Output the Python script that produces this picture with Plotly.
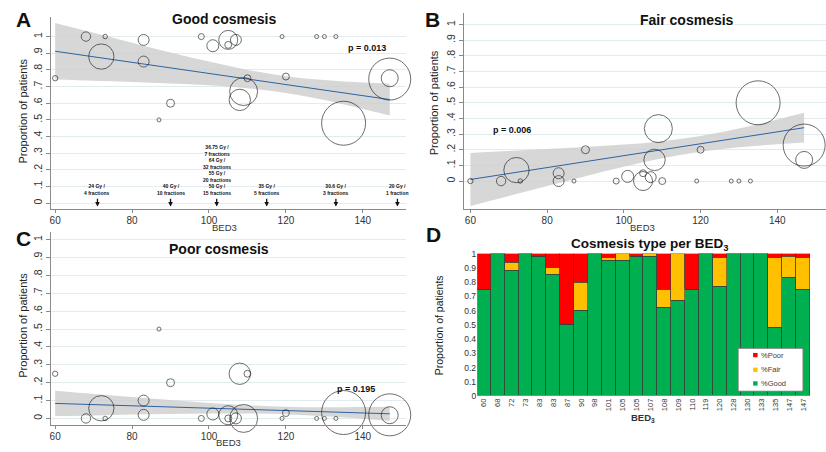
import plotly.graph_objects as go

W, H = 826, 452

# ---------------- data ----------------
bed = [60, 68, 72, 73, 83, 83, 87, 90, 98, 101, 105, 105, 107, 108, 109, 110,
       119, 120, 128, 130, 133, 135, 147, 147]
bed_labels = [str(b) for b in bed]
n_weight = [7, 22, 160, 5, 30, 30, 1, 16, 9, 36, 12, 90, 30, 114, 196, 12,
            4, 12, 3, 1, 3, 484, 72, 441]

good_pts = [0.75, 1.0, 0.88, 1.0, 0.98, 0.85, 0.5, 0.6, 1.0, 0.945, 0.95, 0.98,
            0.98, 0.62, 0.67, 0.75, 1.0, 0.76, 1.0, 1.0, 1.0, 0.48, 0.75, 0.745]
fair_pts = [0, 0, 0.07, 0, 0, 0.05, 0, 0.2, 0, 0.03, 0.05, 0, 0.025, 0.135,
            0.335, 0, 0, 0.2, 0, 0, 0, 0.5, 0.135, 0.23]
poor_pts = [0.25, 0, 0.057, 0, 0.02, 0.10, 0.5, 0.2, 0, 0.025, 0, 0.018, 0,
            0.25, 0, 0.25, 0, 0.03, 0, 0, 0, 0.033, 0.018, 0.02]

good_bar = [0.75, 1.0, 0.88, 1.0, 0.98, 0.85, 0.5, 0.6, 1.0, 0.95, 0.95, 0.98,
            0.98, 0.62, 0.67, 0.75, 1.0, 0.77, 1.0, 1.0, 1.0, 0.48, 0.83, 0.75]
fair_bar = [0, 0, 0.06, 0, 0, 0.05, 0, 0.2, 0, 0.02, 0.05, 0, 0.02, 0.13, 0.33,
            0, 0, 0.2, 0, 0, 0, 0.495, 0.15, 0.225]
poor_bar = [0.25, 0, 0.06, 0, 0.02, 0.1, 0.5, 0.2, 0, 0.03, 0, 0.02, 0, 0.25, 0,
            0.25, 0, 0.03, 0, 0, 0, 0.025, 0.02, 0.025]

fit_x = [60, 70, 80, 90, 100, 110, 120, 130, 140, 147]
good_fit = [0.912, 0.879, 0.845, 0.812, 0.779, 0.745, 0.712, 0.679, 0.645, 0.622]
good_hi = [1.082, 1.023, 0.963, 0.905, 0.850, 0.800, 0.762, 0.739, 0.724, 0.717]
good_lo = [0.742, 0.735, 0.728, 0.719, 0.708, 0.690, 0.662, 0.619, 0.566, 0.527]
fair_fit = [0.010, 0.048, 0.086, 0.124, 0.162, 0.200, 0.238, 0.276, 0.314, 0.341]
fair_hi = [0.180, 0.192, 0.204, 0.217, 0.233, 0.255, 0.288, 0.336, 0.393, 0.436]
fair_lo = [-0.160, -0.096, -0.032, 0.031, 0.091, 0.145, 0.188, 0.216, 0.235, 0.246]
poor_fit = [0.084, 0.077, 0.071, 0.064, 0.057, 0.051, 0.044, 0.037, 0.031, 0.026]
poor_hi = [0.155, 0.137, 0.120, 0.103, 0.087, 0.074, 0.065, 0.062, 0.064, 0.066]
poor_lo = [0.013, 0.017, 0.022, 0.025, 0.027, 0.028, 0.023, 0.012, -0.002, -0.014]

p_values = ["p = 0.013", "p = 0.006", "p = 0.195"]

dose_bed = [71, 90, 102, 115, 133, 149]
dose_labels = ["24 Gy /<br>4 fractions", "40 Gy /<br>10 fractions",
               "36.75 Gy /<br>7 fractions<br>64 Gy /<br>32 fractions<br>55 Gy /<br>20 fractions<br>50 Gy /<br>15 fractions",
               "35 Gy /<br>5 fractions", "30.6 Gy /<br>3 fractions", "20 Gy /<br>1 fraction"]

y_ticks = [0, 0.1, 0.2, 0.3, 0.4, 0.5, 0.6, 0.7, 0.8, 0.9, 1.0]
stata_ticktext = ["0", ".1", ".2", ".3", ".4", ".5", ".6", ".7", ".8", ".9", "1"]
excel_ticktext = ["0", "0.1", "0.2", "0.3", "0.4", "0.5", "0.6", "0.7", "0.8", "0.9", "1"]
x_ticks = [60, 80, 100, 120, 140]

series_names = ["%Good", "%Fair", "%Poor"]
series_colors = ["#00b050", "#ffc000", "#ff0000"]


def px(x):
    return x / W


def py(y):
    return 1 - y / H


FONT = "Arial, Liberation Sans, sans-serif"
fig = go.Figure()

panels = [
    ("x", "y", good_pts, good_fit, good_hi, good_lo),
    ("x2", "y2", fair_pts, fair_fit, fair_hi, fair_lo),
    ("x3", "y3", poor_pts, poor_fit, poor_hi, poor_lo),
]
for xa, ya, pts, fit, hi, lo in panels:
    fig.add_trace(go.Scatter(x=fit_x, y=lo, xaxis=xa, yaxis=ya, mode="lines",
                             line=dict(width=0, shape="spline"), showlegend=False,
                             hoverinfo="skip"))
    fig.add_trace(go.Scatter(x=fit_x, y=hi, xaxis=xa, yaxis=ya, mode="lines",
                             line=dict(width=0, shape="spline"), fill="tonexty",
                             fillcolor="rgba(205,205,205,0.8)", showlegend=False,
                             hoverinfo="skip"))
    fig.add_trace(go.Scatter(x=fit_x, y=fit, xaxis=xa, yaxis=ya, mode="lines",
                             line=dict(width=1, color="#2e62a0"), showlegend=False))
    fig.add_trace(go.Scatter(x=bed, y=pts, xaxis=xa, yaxis=ya, mode="markers",
                             cliponaxis=False,
                             marker=dict(size=n_weight, sizemode="area", sizeref=0.5,
                                         sizemin=2, color="rgba(0,0,0,0)",
                                         line=dict(width=0.9, color="#1a1a1a")),
                             showlegend=False))

# panel D bars
pos = list(range(len(bed)))
for name, vals, col in zip(series_names, [good_bar, fair_bar, poor_bar], series_colors):
    fig.add_trace(go.Bar(x=pos, y=vals, name=name, xaxis="x4", yaxis="y4",
                         showlegend=False,
                         marker=dict(color=col, line=dict(color="#3c3c3c", width=0.6))))

axis_common = dict(showline=True, linecolor="#8a8a8a", linewidth=1, ticks="outside",
                   tickcolor="#8a8a8a", zeroline=False)


def xax(dom, rng):
    return dict(domain=dom, range=rng, tickvals=x_ticks, showgrid=False, ticklen=3,
                ticklabelstandoff=-1,
                tickfont=dict(size=10, color="#333", family=FONT), **axis_common)


def yax(dom, rng, anchor):
    return dict(domain=dom, range=rng, tickvals=y_ticks, ticktext=stata_ticktext,
                tickangle=-90, showgrid=True, gridcolor="#e2ecef", gridwidth=1, ticklen=4,
                tickfont=dict(size=10.5, color="#333", family=FONT), anchor=anchor,
                **axis_common)


fig.update_layout(
    width=W, height=H, margin=dict(l=0, r=0, t=0, b=0),
    paper_bgcolor="white", plot_bgcolor="white",
    barmode="stack", bargap=0, showlegend=False,
    font=dict(family=FONT),
    xaxis=dict(anchor="y", **xax([px(50), px(405)], [58.9, 151.1])),
    yaxis=yax([py(209), py(12)], [-0.037, 1.119], "x"),
    xaxis2=dict(anchor="y2", **xax([px(463.3), 1.0], [58.26, 152.7])),
    yaxis2=yax([py(209), py(8)], [-0.181, 1.075], "x2"),
    xaxis3=dict(anchor="y3", **xax([px(50), px(405)], [58.9, 151.1])),
    yaxis3=yax([py(429), py(232)], [-0.034, 1.044], "x3"),
    xaxis4=dict(domain=[px(476.7), px(810)], range=[-0.5, 23.5], anchor="y4",
                tickvals=pos, ticktext=bed_labels, tickangle=-90, showline=False,
                ticks="", tickfont=dict(size=7.5, color="#333", family=FONT)),
    yaxis4=dict(domain=[py(400), py(254.3)], range=[0, 1], anchor="x4",
                tickvals=y_ticks, ticktext=excel_ticktext, showgrid=False,
                showline=False, ticks="", zeroline=False,
                tickfont=dict(size=8.5, color="#333", family=FONT)),
)

ann = []
shapes = []


def text(x, y, t, size, bold=False, angle=0, color="#111", xanchor="center", yanchor="middle"):
    ann.append(dict(x=px(x), y=py(y), xref="paper", yref="paper", showarrow=False,
                    text=f"<b>{t}</b>" if bold else t, textangle=angle,
                    font=dict(size=size, color=color, family=FONT),
                    xanchor=xanchor, yanchor=yanchor))


# panel letters
text(23, 15, "A", 21, bold=True)
text(432, 15, "B", 21, bold=True)
text(23, 239, "C", 21, bold=True)
text(433, 235, "D", 21, bold=True)
# titles
text(223, 14, "Good cosmesis", 14, bold=True)
text(687, 15, "Fair cosmesis", 14, bold=True)
text(218, 250, "Poor cosmesis", 14, bold=True)
text(650, 245, "Cosmesis type per BED<sub>3</sub>", 13.5, bold=True)
# axis titles
text(22, 108, "Proportion of patients", 11, angle=-90, color="#222")
text(433, 100, "Proportion of patients", 11, angle=-90, color="#222")
text(22, 327, "Proportion of patients", 11, angle=-90, color="#222")
text(438, 327, "Proportion of patients", 10.5, angle=-90, color="#222")
text(224, 227.5, "BED3", 9.5, color="#333")
text(642, 227.5, "BED3", 9.5, color="#333")
text(228, 447.5, "BED3", 9.5, color="#333")
text(643, 422, "BED<sub>3</sub>", 9.5, bold=True, color="#333")
# p-values
text(366, 44, p_values[0], 9, bold=True)
text(512, 128, p_values[1], 9, bold=True)
text(355, 393, p_values[2], 9, bold=True)

# dose annotations with arrows (panel A)
for b, lab in zip(dose_bed, dose_labels):
    ann.append(dict(x=b, y=0.04, xref="x", yref="y", showarrow=False,
                    text=f"<b>{lab}</b>", font=dict(size=5, color="#111", family=FONT),
                    xanchor="center", yanchor="bottom", borderpad=0))
    ann.append(dict(x=b, y=-0.02, xref="x", yref="y", ax=b, ay=0.035, axref="x",
                    ayref="y", text="", showarrow=True, arrowhead=2, arrowsize=0.7,
                    arrowwidth=1.3, arrowcolor="#111"))

# manual legend for panel D
shapes.append(dict(type="rect", xref="paper", yref="paper", x0=px(738), x1=px(803),
                   y0=py(395), y1=py(351), line=dict(color="#777", width=1),
                   fillcolor="white", layer="above"))
leg_y = [358, 373, 387]
for yy, name, col in zip(leg_y, series_names[::-1], series_colors[::-1]):
    shapes.append(dict(type="rect", xref="paper", yref="paper", x0=px(753), x1=px(757.5),
                       y0=py(yy + 2.2), y1=py(yy - 2.2), line=dict(width=0),
                       fillcolor=col, layer="above"))
    text(759, yy, name, 7.5, color="#404040", xanchor="left")

fig.update_layout(annotations=ann, shapes=shapes)
fig.write_html("out.html")
